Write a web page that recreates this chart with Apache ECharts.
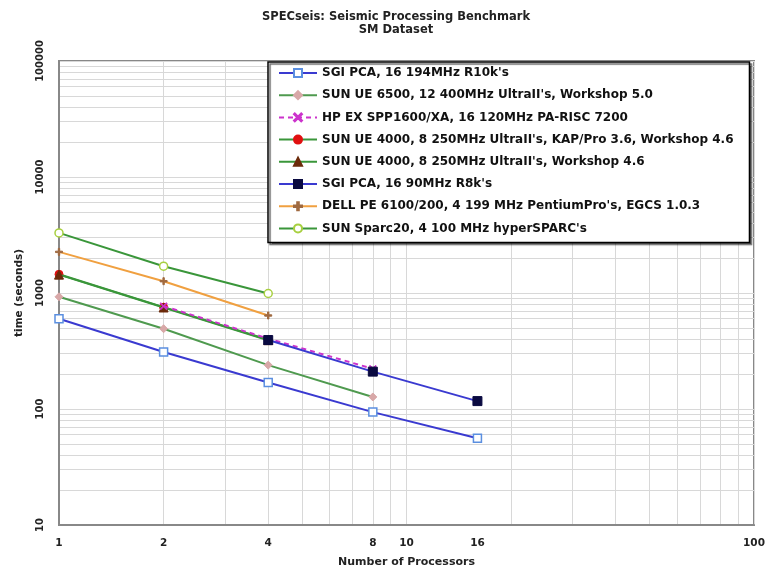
<!DOCTYPE html>
<html>
<head>
<meta charset="utf-8">
<script src="https://cdn.jsdelivr.net/npm/echarts@6/dist/echarts.min.js"></script>
<style>
  html, body { margin: 0; padding: 0; background: #fff; }
  #main { width: 769px; height: 573px; }
</style>
</head>
<body>
<div id="main"></div>
<script>
// processors (x) and time in seconds (y), one array per system
const sgi194 = [[1, 600], [2, 310], [4, 169], [8, 94], [16, 56]];
const sunUE6500 = [[1, 927], [2, 492], [4, 239], [8, 127]];
const hpSPP = [[2, 770], [4, 405], [8, 222]];
const sunUE4000Kap = [[1, 1450], [2, 755], [4, 395]];
const sunUE4000 = [[1, 1440], [2, 750], [4, 392]];
const sgi90 = [[4, 393], [8, 210], [16, 117]];
const dellPE = [[1, 2262], [2, 1264], [4, 640]];
const sunSparc20 = [[1, 3296], [2, 1702], [4, 990]];

const seriesNames = [
    "SGI PCA, 16 194MHz R10k's",
    "SUN UE 6500, 12 400MHz UltraII's, Workshop 5.0",
    "HP EX SPP1600/XA, 16 120MHz PA-RISC 7200",
    "SUN UE 4000, 8 250MHz UltraII's, KAP/Pro 3.6, Workshop 4.6",
    "SUN UE 4000, 8 250MHz UltraII's, Workshop 4.6",
    "SGI PCA, 16 90MHz R8k's",
    "DELL PE 6100/200, 4 199 MHz PentiumPro's, EGCS 1.0.3",
    "SUN Sparc20, 4 100 MHz hyperSPARC's"
];

const xLabels = [1, 2, 4, 8, 10, 16, 100];
const xGrid = [1, 2, 3, 4, 5, 6, 7, 8, 9, 10, 20, 30, 40, 50, 60, 70, 80, 90, 100];
const yLabels = [10, 100, 1000, 10000, 100000];
const yGrid = [];
[10, 100, 1000, 10000].forEach(function (d) {
    for (let k = 1; k < 10; k++) yGrid.push(d * k);
});
yGrid.push(100000);

const crossPath = 'path://M0,1L1,0L5,4L9,0L10,1L6,5L10,9L9,10L5,6L1,10L0,9L4,5Z';
const plusPath = 'path://M4,0L6,0L6,4L10,4L10,6L6,6L6,10L4,10L4,6L0,6L0,4L4,4Z';

const font = 'DejaVu Sans, Liberation Sans, sans-serif';

function line(name, data, color, symbol, markColor, opts) {
    opts = opts || {};
    return {
        name: name,
        type: 'line',
        data: data,
        symbol: symbol,
        symbolSize: opts.size || 8,
        lineStyle: { color: color, width: 2, type: opts.dash ? [5, 4] : 'solid' },
        itemStyle: { color: markColor, borderColor: opts.border || markColor, borderWidth: opts.bw || 1 },
        emphasis: { disabled: true },
        z: opts.z || 2
    };
}

let myChart = echarts.init(document.getElementById('main'));
myChart.setOption({
    backgroundColor: '#fff',
    animation: false,
    textStyle: { fontFamily: font },
    title: {
        text: 'SPECseis: Seismic Processing Benchmark',
        subtext: 'SM Dataset',
        left: 391,
        textAlign: 'center',
        top: 6,
        itemGap: 1,
        textStyle: { fontSize: 11.5, fontWeight: 'bold', color: '#222', fontFamily: font },
        subtextStyle: { fontSize: 11.5, fontWeight: 'bold', color: '#222', fontFamily: font }
    },
    legend: {
        orient: 'vertical',
        left: 268,
        top: 62,
        padding: [5, 16, 8, 10],
        itemWidth: 38,
        itemHeight: 10,
        itemGap: 10.2,
        backgroundColor: '#fff',
        borderColor: '#000',
        borderWidth: 1.5,
        shadowColor: 'rgba(0,0,0,0.6)',
        shadowOffsetX: 2,
        shadowOffsetY: 2,
        shadowBlur: 1,
        textStyle: { fontSize: 12, fontWeight: 'bold', color: '#111', fontFamily: font },
        data: seriesNames
    },
    grid: {
        left: 59, right: 15, top: 61, bottom: 47,
        show: true,
        borderColor: '#888',
        borderWidth: 2
    },
    xAxis: {
        type: 'log',
        logBase: 10,
        min: 1,
        max: 100,
        name: 'Number of Processors',
        nameLocation: 'middle',
        nameGap: 32,
        nameTextStyle: { fontSize: 11, fontWeight: 'bold', color: '#222' },
        axisLine: { lineStyle: { color: '#888', width: 2 } },
        axisTick: { show: false, customValues: xGrid },
        axisLabel: { customValues: xLabels, fontSize: 10.5, fontWeight: 'bold', color: '#222', margin: 13 },
        splitLine: { show: true, lineStyle: { color: '#d8d8d8', width: 1 } }
    },
    yAxis: {
        type: 'log',
        logBase: 10,
        min: 10,
        max: 100000,
        name: 'time (seconds)',
        nameLocation: 'middle',
        nameRotate: 90,
        nameGap: 34,
        nameTextStyle: { fontSize: 10.5, fontWeight: 'bold', color: '#222' },
        axisLine: { lineStyle: { color: '#888', width: 2 } },
        axisTick: { show: false, customValues: yGrid },
        axisLabel: {
            customValues: yLabels,
            rotate: 90,
            fontSize: 10,
            fontWeight: 'bold',
            color: '#222',
            margin: 14,
            formatter: function (v) { return String(v); }
        },
        splitLine: { show: true, lineStyle: { color: '#d8d8d8', width: 1 } }
    },
    series: [
        line(seriesNames[0], sgi194, '#3a3ad0', 'rect', '#fff', { border: '#5b8fe0', bw: 1.5, size: 8, z: 3 }),
        line(seriesNames[1], sunUE6500, '#4f9a4f', 'diamond', '#d8a8a8', { size: 8 }),
        line(seriesNames[2], hpSPP, '#cc33cc', crossPath, '#cc33cc', { dash: true, size: 7, z: 4 }),
        line(seriesNames[3], sunUE4000Kap, '#3a963a', 'circle', '#e01010', { size: 8 }),
        line(seriesNames[4], sunUE4000, '#3a963a', 'triangle', '#6b2a0a', { size: 9, z: 3 }),
        line(seriesNames[5], sgi90, '#3a3ad0', 'rect', '#0a0a40', { size: 9, z: 5 }),
        line(seriesNames[6], dellPE, '#f0a040', plusPath, '#a06a40', { size: 7 }),
        line(seriesNames[7], sunSparc20, '#3a963a', 'circle', '#fff', { border: '#a8d040', bw: 1.5, size: 8 })
    ]
});
</script>
</body>
</html>
